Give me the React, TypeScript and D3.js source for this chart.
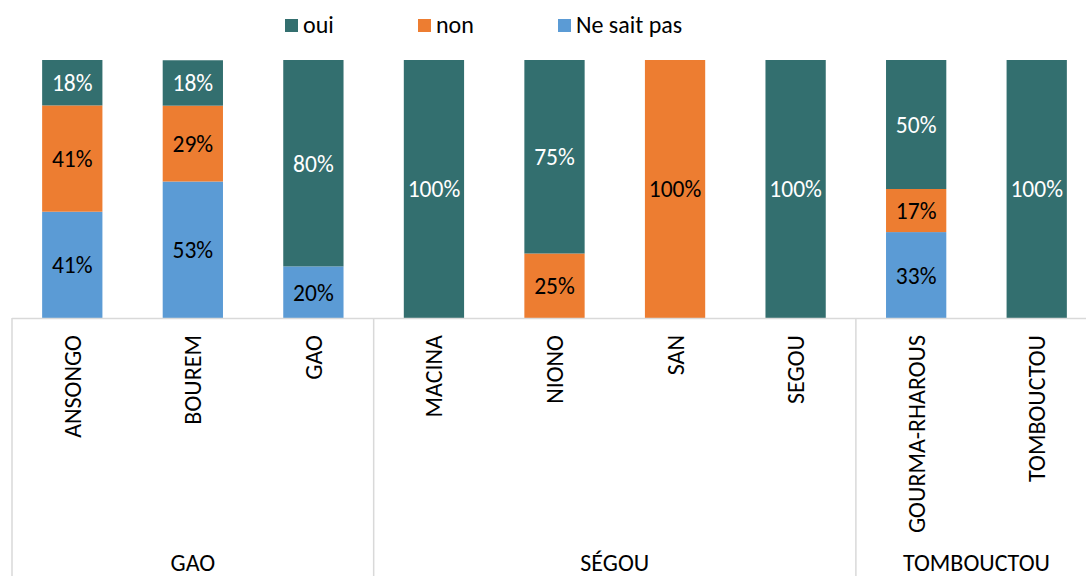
import React from "react";
import * as d3 from "d3";

const categories = ["ANSONGO", "BOUREM", "GAO", "MACINA", "NIONO", "SAN", "SEGOU", "GOURMA-RHAROUS", "TOMBOUCTOU"];
const regions = ["GAO", "GAO", "GAO", "SÉGOU", "SÉGOU", "SÉGOU", "SÉGOU", "TOMBOUCTOU", "TOMBOUCTOU"];
const oui = [17.6, 17.6, 80, 100, 75, 0, 100, 50, 100];
const non = [41.2, 29.4, 0, 0, 25, 100, 0, 16.7, 0];
const nsp = [41.2, 52.9, 20, 0, 0, 0, 0, 33.3, 0];

const series = [
  { key: "nsp", name: "Ne sait pas", values: nsp, color: "#5B9BD5", text: "#000" },
  { key: "non", name: "non", values: non, color: "#ED7D31", text: "#000" },
  { key: "oui", name: "oui", values: oui, color: "#336F6F", text: "#fff" },
];
const legendOrder = ["oui", "non", "nsp"];

const W = 1086;
const H = 576;
const FONT = "Carlito, Calibri, Lato, sans-serif";
const FS = 24;

const App = () => {
  const x = d3.scaleBand().domain(categories).range([12, 1097]).paddingInner(0.5).paddingOuter(0.25);
  const y = d3.scaleLinear().domain([0, 100]).range([318, 60]);

  const rows = categories.map((c, i) => {
    const r: any = { cat: c };
    series.forEach((s) => (r[s.key] = s.values[i]));
    return r;
  });
  const stack = d3.stack().keys(series.map((s) => s.key))(rows);

  // group spans
  const groups: { name: string; start: number; end: number }[] = [];
  regions.forEach((g, i) => {
    const last = groups[groups.length - 1];
    if (last && last.name === g) last.end = i;
    else groups.push({ name: g, start: i, end: i });
  });
  const step = x.step();
  const left = (i: number) => 12 + i * step;

  const legendX = [285, 418, 558];

  return (
    <svg width={W} height={H} style={{ position: "absolute", left: 0, top: 0, background: "#fff" }} fontFamily={FONT}>
      {stack.map((layer, si) => (
        <g key={series[si].key}>
          {layer.map((d, i) => {
            const v = d[1] - d[0];
            if (v <= 0) return null;
            const x0 = x(categories[i])!;
            const yTop = y(d[1]);
            const yBot = y(d[0]);
            return (
              <g key={i}>
                <rect x={x0} y={yTop} width={x.bandwidth()} height={yBot - yTop} fill={series[si].color} />
                <text
                  x={x0 + x.bandwidth() / 2}
                  y={(yTop + yBot) / 2}
                  dy="0.36em"
                  textAnchor="middle"
                  fontSize={23.5}
                  fill={series[si].text}
                >
                  {d3.format(".0f")(v)}%
                </text>
              </g>
            );
          })}
        </g>
      ))}

      {/* axis */}
      <line x1={12} x2={W} y1={318.5} y2={318.5} stroke="#D9D9D9" strokeWidth={1.5} />
      {groups.map((g, gi) => (
        <line key={"sep" + gi} x1={left(g.start)} x2={left(g.start)} y1={318} y2={H} stroke="#D9D9D9" strokeWidth={1.5} />
      ))}
      {categories.map((c) => {
        const cx = x(c)! + x.bandwidth() / 2;
        return (
          <text
            key={c}
            transform={`translate(${cx + 8.5},335) rotate(-90)`}
            textAnchor="end"
            fontSize={FS}
            fill="#000"
          >
            {c}
          </text>
        );
      })}
      {groups.map((g) => (
        <text
          key={"g" + g.name}
          x={(left(g.start) + left(g.end + 1)) / 2}
          y={571}
          textAnchor="middle"
          fontSize={FS}
          fill="#000"
        >
          {g.name}
        </text>
      ))}

      {/* legend */}
      {legendOrder.map((k, i) => {
        const s = series.find((d) => d.key === k)!;
        return (
          <g key={k} transform={`translate(${legendX[i]},19)`}>
            <rect width={13} height={13} fill={s.color} />
            <text x={18} y={13.5} fontSize={FS} fill="#000">
              {s.name}
            </text>
          </g>
        );
      })}
    </svg>
  );
};

export default App;
